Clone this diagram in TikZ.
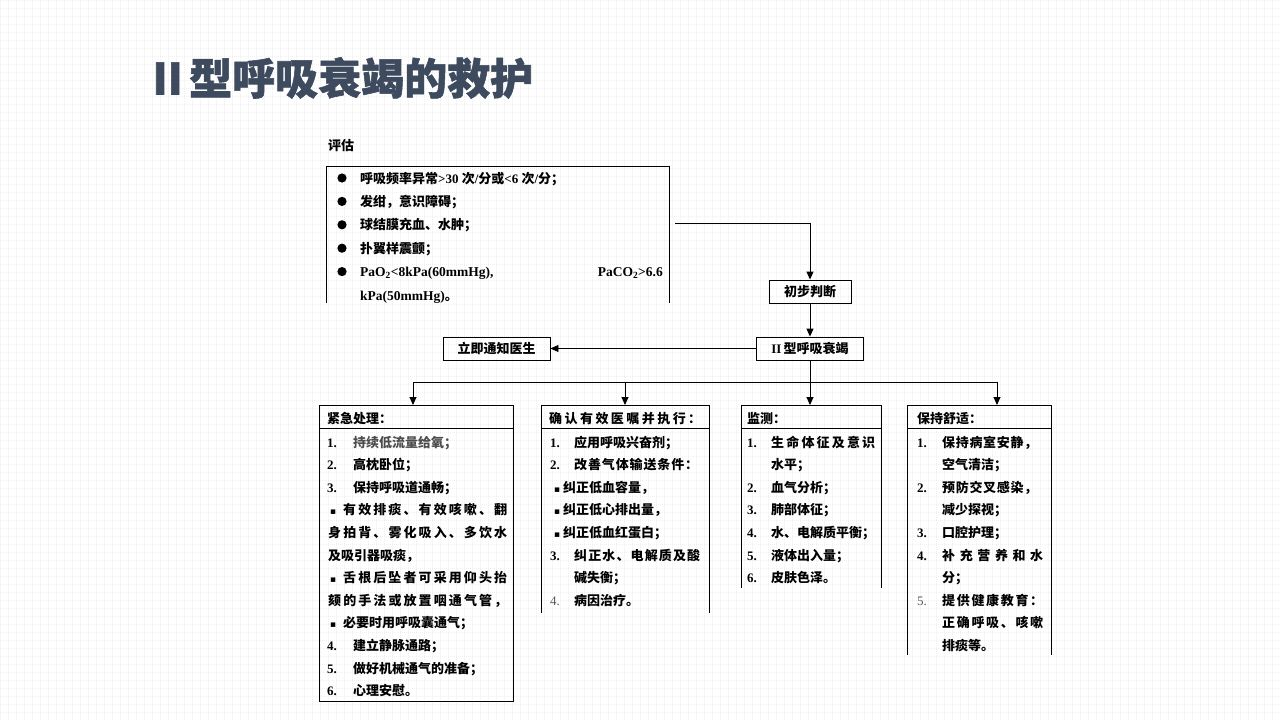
\documentclass[tikz,border=0pt]{standalone}
\usepackage{fontspec}
\setmainfont{Noto Sans CJK SC}
\newfontfamily\latf{Liberation Serif}
\newfontfamily\dvf{DejaVu Sans}
\newfontfamily\titlef{Noto Sans CJK SC}[UprightFeatures={FakeBold=1.3},BoldFeatures={FakeBold=1.3}]
\usetikzlibrary{arrows.meta}
\definecolor{titlecol}{HTML}{3E4A5E}
\def\spreadchars#1{\ifx\relax#1\else#1\hfil\expandafter\spreadchars\fi}
\newcommand\jl[2]{\hbox to #1pt{\spreadchars#2\relax\unskip}}
\newcommand\lbf[1]{{\latf\bfseries #1}}
\newcommand\lrg[1]{{\latf\mdseries\color{black!65}#1}}
\newcommand\sq{{\dvf\mdseries\fontsize{9}{9}\selectfont ▪}}
\begin{document}
\begin{tikzpicture}[x=1pt,y=-1pt,
  txt/.style={anchor=base west, inner sep=0pt, font=\fontsize{13}{15}\selectfont\bfseries},
  fbox/.style={draw, line width=0.9pt, minimum height=23pt, inner sep=2pt, font=\fontsize{13}{15}\selectfont\bfseries},
  arr/.style={line width=0.9pt, -{Triangle[length=8pt,width=7pt]}},
  ln/.style={line width=0.9pt}]
\useasboundingbox (0,0) rectangle (1280,720);
\fill[white] (0,0) rectangle (1280,720);
\draw[black!6, line width=0.4pt, dash pattern=on 0.8pt off 1.2pt] (0,0) grid[step=8pt] (1280,720);

% title
\node[anchor=base west, inner sep=0pt, font=\titlef\fontsize{43}{47}\selectfont\bfseries, text=titlecol] (title) at (146,94.5) {Ⅱ型呼吸衰竭的救护};

% evaluation
\node[txt] (evtitle) at (328,150) {评估};
\draw[ln] (326,303) -- (326,166) -- (669,166) -- (669,303);
\foreach \i in {0,...,4} \fill (342,{178+23.4*\i}) circle (4.6pt);
\node[txt] (ev0) at (360,183) {呼吸频率异常\lbf{>30 }次\lbf{/}分或\lbf{<6 }次\lbf{/}分；};
\node[txt] (ev1) at (360,{183+23.4}) {发绀，意识障碍；};
\node[txt] (ev2) at (360,{183+23.4*2}) {球结膜充血、水肿；};
\node[txt] (ev3) at (360,{183+23.4*3}) {扑翼样震颤；};
\node[txt] (ev4) at (360,{183+23.4*4}) {\lbf{\fontsize{13.5}{15}\selectfont PaO\textsubscript{2}<8kPa(60mmHg),}};
\node[txt, anchor=base east] (ev4b) at (663,{183+23.4*4}) {\lbf{\fontsize{13.5}{15}\selectfont PaCO\textsubscript{2}>6.6}};
\node[txt] (ev5) at (360,{183+23.4*5}) {\lbf{\fontsize{13.5}{15}\selectfont kPa(50mmHg)}。};

% flow boxes
\node[fbox, minimum width=82pt] (judge) at (810,291.5) {初步判断};
\node[fbox, minimum width=107pt] (type2) at (810,348.5) {\lbf{II}\,型呼吸衰竭};
\node[fbox, minimum width=107pt] (notify) at (496.5,348.5) {立即通知医生};

\coordinate (evout) at (675,223);
\coordinate (bus) at (810,382);
\coordinate (top1) at (413,405);
\coordinate (top2) at (625,405);
\coordinate (top3) at (810,405);
\coordinate (top4) at (997,405);
\draw[arr] (evout) -| (judge.north);
\draw[arr] (judge.south) -- (type2.north);
\draw[arr] (type2.west) -- (notify.east);
\draw[ln] (type2.south) -- (bus);
\draw[arr] (bus) -| (top1);
\draw[arr] (bus) -| (top2);
\draw[arr] (bus) -- (top3);
\draw[arr] (bus) -| (top4);

% bottom boxes
\draw[ln] (319,405) rectangle (513,701);
\draw[ln] (319,428) -- (513,428);
\draw[ln] (541,613) -- (541,405) -- (709,405) -- (709,613);
\draw[ln] (541,428) -- (709,428);
\draw[ln] (741,588) -- (741,405) -- (881,405) -- (881,588);
\draw[ln] (741,428) -- (881,428);
\draw[ln] (907,655) -- (907,405) -- (1051,405) -- (1051,655);
\draw[ln] (907,428) -- (1051,428);

% box 1
\node[txt] (h1) at (327,423) {紧急处理：};
\node[txt] (b1n0) at (327,447) {\lbf{1.}};
\node[txt] (b1t0) at (353,447) {\color{black!70}持续低流量给氧；};
\node[txt] (b1n1) at (327,{447+22.6}) {\lbf{2.}};
\node[txt] (b1t1) at (353,{447+22.6}) {高枕卧位；};
\node[txt] (b1n2) at (327,{447+22.6*2}) {\lbf{3.}};
\node[txt] (b1t2) at (353,{447+22.6*2}) {保持呼吸道通畅；};
\node[txt] (b1s3) at (330,{447+22.6*3}) {\sq};
\node[txt] (b1t3) at (343,{447+22.6*3}) {\jl{164}{有效排痰、有效咳嗽、翻}};
\node[txt] (b1t4) at (328,{447+22.6*4}) {\jl{179}{身拍背、雾化吸入、多饮水}};
\node[txt] (b1t5) at (328,{447+22.6*5}) {及吸引器吸痰，};
\node[txt] (b1s6) at (330,{447+22.6*6}) {\sq};
\node[txt] (b1t6) at (343,{447+22.6*6}) {\jl{164}{舌根后坠者可采用仰头抬}};
\node[txt] (b1t7) at (328,{447+22.6*7}) {\jl{179}{颏的手法或放置咽通气管，}};
\node[txt] (b1s8) at (330,{447+22.6*8}) {\sq};
\node[txt] (b1t8) at (343,{447+22.6*8}) {必要时用呼吸囊通气；};
\node[txt] (b1n9) at (327,{447+22.6*9}) {\lbf{4.}};
\node[txt] (b1t9) at (353,{447+22.6*9}) {建立静脉通路；};
\node[txt] (b1n10) at (327,{447+22.6*10}) {\lbf{5.}};
\node[txt] (b1t10) at (353,{447+22.6*10}) {做好机械通气的准备；};
\node[txt] (b1n11) at (327,{447+22.6*11}) {\lbf{6.}};
\node[txt] (b1t11) at (353,{447+22.6*11}) {心理安慰。};

% box 2
\node[txt] (h2) at (549,423) {\jl{152}{确认有效医嘱并执行：}};
\node[txt] (b2n0) at (550,447) {\lbf{1.}};
\node[txt] (b2t0) at (574,447) {应用呼吸兴奋剂；};
\node[txt] (b2n1) at (550,{447+22.6}) {\lbf{2.}};
\node[txt] (b2t1) at (574,{447+22.6}) {\jl{124}{改善气体输送条件：}};
\node[txt] (b2s2) at (554,{447+22.6*2}) {\sq};
\node[txt] (b2t2) at (563,{447+22.6*2}) {纠正低血容量，};
\node[txt] (b2s3) at (554,{447+22.6*3}) {\sq};
\node[txt] (b2t3) at (563,{447+22.6*3}) {纠正低心排出量，};
\node[txt] (b2s4) at (554,{447+22.6*4}) {\sq};
\node[txt] (b2t4) at (563,{447+22.6*4}) {纠正低血红蛋白；};
\node[txt] (b2n5) at (550,{447+22.6*5}) {\lbf{3.}};
\node[txt] (b2t5) at (574,{447+22.6*5}) {\jl{126}{纠正水、电解质及酸}};
\node[txt] (b2t6) at (574,{447+22.6*6}) {碱失衡；};
\node[txt] (b2n7) at (550,{447+22.6*7}) {\lrg{4.}};
\node[txt] (b2t7) at (574,{447+22.6*7}) {病因治疗。};

% box 3
\node[txt] (h3) at (747,423) {监测：};
\node[txt] (b3n0) at (747,447) {\lbf{1.}};
\node[txt] (b3t0) at (771,447) {\jl{104}{生命体征及意识}};
\node[txt] (b3t1) at (771,{447+22.6}) {水平；};
\node[txt] (b3n2) at (747,{447+22.6*2}) {\lbf{2.}};
\node[txt] (b3t2) at (771,{447+22.6*2}) {血气分析；};
\node[txt] (b3n3) at (747,{447+22.6*3}) {\lbf{3.}};
\node[txt] (b3t3) at (771,{447+22.6*3}) {肺部体征；};
\node[txt] (b3n4) at (747,{447+22.6*4}) {\lbf{4.}};
\node[txt] (b3t4) at (771,{447+22.6*4}) {水、电解质平衡；};
\node[txt] (b3n5) at (747,{447+22.6*5}) {\lbf{5.}};
\node[txt] (b3t5) at (771,{447+22.6*5}) {液体出入量；};
\node[txt] (b3n6) at (747,{447+22.6*6}) {\lbf{6.}};
\node[txt] (b3t6) at (771,{447+22.6*6}) {皮肤色泽。};

% box 4
\node[txt] (h4) at (917,423) {保持舒适：};
\node[txt] (b4n0) at (917,447) {\lbf{1.}};
\node[txt] (b4t0) at (942,447) {\jl{95}{保持病室安静，}};
\node[txt] (b4t1) at (942,{447+22.6}) {空气清洁；};
\node[txt] (b4n2) at (917,{447+22.6*2}) {\lbf{2.}};
\node[txt] (b4t2) at (942,{447+22.6*2}) {\jl{95}{预防交叉感染，}};
\node[txt] (b4t3) at (942,{447+22.6*3}) {减少探视；};
\node[txt] (b4n4) at (917,{447+22.6*4}) {\lbf{3.}};
\node[txt] (b4t4) at (942,{447+22.6*4}) {口腔护理；};
\node[txt] (b4n5) at (917,{447+22.6*5}) {\lbf{4.}};
\node[txt] (b4t5) at (942,{447+22.6*5}) {\jl{101}{补充营养和水}};
\node[txt] (b4t6) at (942,{447+22.6*6}) {分；};
\node[txt] (b4n7) at (917,{447+22.6*7}) {\lrg{5.}};
\node[txt] (b4t7) at (942,{447+22.6*7}) {\jl{101}{提供健康教育：}};
\node[txt] (b4t8) at (942,{447+22.6*8}) {\jl{101}{正确呼吸、咳嗽}};
\node[txt] (b4t9) at (942,{447+22.6*9}) {排痰等。};
\end{tikzpicture}
\end{document}
